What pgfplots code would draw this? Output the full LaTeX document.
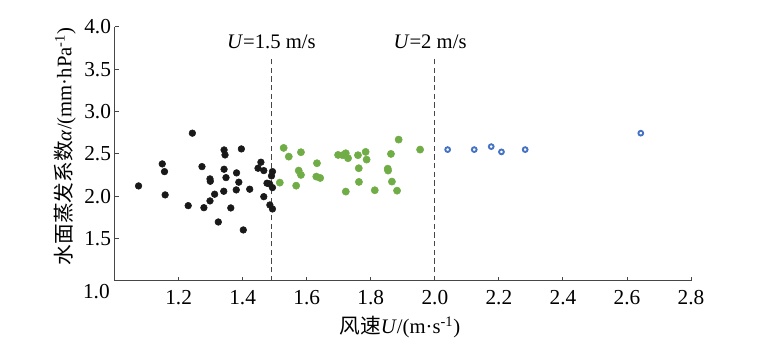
\documentclass[border=0pt]{standalone}
\usepackage{pgfplots}
\pgfplotsset{compat=1.18}
\usepackage{fontspec}
\setmainfont{Liberation Serif}
\newfontfamily\cjk{Noto Sans CJK SC}
\definecolor{dotblack}{RGB}{25,25,25}
\definecolor{dotgreen}{RGB}{112,173,71}
\definecolor{dotblue}{RGB}{68,114,196}
\definecolor{axgray}{RGB}{70,70,70}
\begin{document}
\fontsize{15.5}{18}\selectfont
\begin{tikzpicture}
\useasboundingbox (0,0) rectangle (572.25pt,264.75pt);
\begin{axis}[
  at={(85.9pt,54pt)}, anchor=south west,
  scale only axis, width=432.4pt, height=190.5pt,
  xmin=1, xmax=2.8, ymin=1, ymax=4,
  axis x line*=bottom, axis y line*=left,
  axis line style={axgray, line width=0.75pt},
  tick align=inside,
  major tick length=3pt,
  tick style={axgray, line width=0.75pt},
  xtick={1.2,1.4,1.6,1.8,2.0,2.2,2.4,2.6,2.8},
  ytick={1.5,2.0,2.5,3.0,3.5,4.0},
  xticklabel={\pgfmathprintnumber[assume math mode=true,fixed,fixed zerofill,precision=1]{\tick}},
  yticklabel={\pgfmathprintnumber[assume math mode=true,fixed,fixed zerofill,precision=1]{\tick}},
  ticklabel style={font=\fontsize{16}{18}\selectfont},
  yticklabel style={inner sep=2.5pt},
  xticklabel style={inner sep=6.5pt},
  xlabel={{\cjk 风速}\textit{U}/(m·s\textsuperscript{-1})},
  ylabel={{\cjk 水面蒸发系数}\textit{α}/(mm·hPa\textsuperscript{-1})},
  xlabel style={at={(axis description cs:0.495,-0.18)}, anchor=center, font=\fontsize{15.5}{18}\selectfont},
  ylabel style={at={(axis description cs:-0.086,0.53)}, anchor=center, rotate=0, font=\fontsize{15.5}{18}\selectfont},
  clip=false,
]
% dashed reference lines
\addplot[axgray, line width=0.75pt, dash pattern=on 4pt off 2.5pt] coordinates {(1.49,1) (1.49,3.63)};
\addplot[axgray, line width=0.75pt, dash pattern=on 4pt off 2.5pt] coordinates {(2.0,1) (2.0,3.63)};
% black: U < 1.5
\addplot[only marks, mark=*, mark size=2.5pt, mark options={draw=dotblack, fill=dotblack}] coordinates {
(1.243,2.746) (1.342,2.548) (1.345,2.489) (1.396,2.560) (1.149,2.383)
(1.156,2.292) (1.273,2.351) (1.342,2.320) (1.381,2.277) (1.457,2.403)
(1.448,2.332) (1.466,2.304) (1.493,2.292) (1.490,2.241) (1.075,2.123)
(1.298,2.206) (1.299,2.178) (1.348,2.221) (1.388,2.167) (1.476,2.155)
(1.484,2.147) (1.493,2.103) (1.158,2.017) (1.3125,2.025) (1.341,2.060)
(1.380,2.076) (1.422,2.084) (1.466,1.996) (1.298,1.946) (1.230,1.890)
(1.279,1.866) (1.363,1.863) (1.485,1.898) (1.493,1.851) (1.324,1.697)
(1.402,1.603)
};
% green: 1.5 <= U < 2
\addplot[only marks, mark=*, mark size=2.7pt, mark options={draw=dotgreen, fill=dotgreen}] coordinates {
(1.528,2.572) (1.544,2.469) (1.582,2.521) (1.516,2.162) (1.567,2.126)
(1.575,2.304) (1.582,2.253) (1.632,2.391) (1.630,2.233) (1.642,2.217)
(1.698,2.489) (1.712,2.486) (1.722,2.509) (1.729,2.450) (1.722,2.056)
(1.760,2.486) (1.784,2.525) (1.787,2.434) (1.7625,2.332) (1.763,2.170)
(1.8125,2.072) (1.853,2.327) (1.854,2.304) (1.863,2.501) (1.866,2.174)
(1.882,2.067) (1.887,2.670) (1.954,2.552)
};
% blue: U >= 2
\addplot[only marks, mark=*, mark size=1.8pt, mark options={draw=dotblue, fill=white, line width=1.4pt}] coordinates {
(2.040,2.552) (2.123,2.552) (2.176,2.587) (2.208,2.525) (2.282,2.552) (2.643,2.746)
};
\node[anchor=center] at (axis cs:1.49,3.82) {\textit{U}=1.5 m/s};
\node[anchor=center] at (axis cs:1.985,3.82) {\textit{U}=2 m/s};
\node[anchor=north east, inner sep=0pt, xshift=-3.4pt, yshift=-2.3pt, font=\fontsize{16}{18}\selectfont] at (axis cs:1,1) {1.0};
\end{axis}
\end{tikzpicture}
\end{document}
